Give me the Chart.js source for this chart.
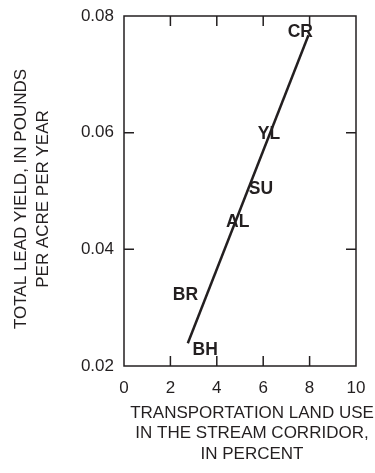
<!DOCTYPE html>
<html>
<head>
<meta charset="utf-8">
<script src="https://cdn.jsdelivr.net/npm/chart.js@4"></script>
<style>
  html, body { margin: 0; padding: 0; background: #fff; }
  #wrap { width: 375px; height: 473px; }
</style>
</head>
<body>
<div id="wrap"><canvas id="leadChart" width="375" height="473"></canvas></div>
<script>
// site labels and where they sit on the plot
const sites = ['CR', 'YL', 'SU', 'AL', 'BR', 'BH'];
const siteX = [7.6, 6.25, 5.9, 4.9, 2.65, 3.5];
const siteY = [0.0772, 0.0598, 0.0503, 0.0446, 0.0322, 0.0227];

// fitted line end points
const fitX = [2.75, 7.95];
const fitY = [0.0239, 0.0767];

const xTicks = [0, 2, 4, 6, 8, 10];
const yTicks = [0.02, 0.04, 0.06, 0.08];

const xTitle = ['TRANSPORTATION LAND USE', 'IN THE STREAM CORRIDOR,', 'IN PERCENT'];
const yTitle = ['TOTAL LEAD YIELD, IN POUNDS', 'PER ACRE PER YEAR'];

const ink = '#231f20';
const baseFont = 'Liberation Sans, Arial, Helvetica, sans-serif';

// frame + inward tick marks on all four sides
const frameTicks = {
  id: 'frameTicks',
  afterDraw(chart) {
    const ctx = chart.ctx;
    const a = chart.chartArea;
    const xs = chart.scales.x, ys = chart.scales.y;
    const len = 10;
    ctx.save();
    ctx.strokeStyle = ink;
    ctx.lineWidth = 1.5;
    ctx.strokeRect(a.left, a.top, a.right - a.left, a.bottom - a.top);
    ctx.beginPath();
    xTicks.slice(1, -1).forEach(v => {
      const px = xs.getPixelForValue(v);
      ctx.moveTo(px, a.bottom); ctx.lineTo(px, a.bottom - len);
      ctx.moveTo(px, a.top); ctx.lineTo(px, a.top + len);
    });
    yTicks.slice(1, -1).forEach(v => {
      const py = ys.getPixelForValue(v);
      ctx.moveTo(a.left, py); ctx.lineTo(a.left + len, py);
      ctx.moveTo(a.right, py); ctx.lineTo(a.right - len, py);
    });
    ctx.stroke();
    ctx.restore();
  }
};

// axis titles (the original sets them a bit off the plot centre)
const axisTitles = {
  id: 'axisTitles',
  afterDraw(chart) {
    const ctx = chart.ctx;
    ctx.save();
    ctx.font = '17px ' + baseFont;
    ctx.fillStyle = ink;
    ctx.textAlign = 'center';
    ctx.textBaseline = 'middle';
    xTitle.forEach((t, i) => ctx.fillText(t, 252, 413 + i * 20.5));
    yTitle.forEach((t, i) => {
      ctx.save();
      ctx.translate(21 + i * 22, 199);
      ctx.rotate(-Math.PI / 2);
      ctx.fillText(t, 0, 0);
      ctx.restore();
    });
    ctx.restore();
  }
};

// site names drawn at their dataset points
const siteLabels = {
  id: 'siteLabels',
  afterDatasetsDraw(chart) {
    const meta = chart.getDatasetMeta(1);
    const ctx = chart.ctx;
    ctx.save();
    ctx.font = 'bold 17.5px ' + baseFont;
    ctx.fillStyle = ink;
    ctx.textAlign = 'center';
    ctx.textBaseline = 'middle';
    meta.data.forEach((pt, i) => {
      ctx.fillText(sites[i], pt.x, pt.y);
    });
    ctx.restore();
  }
};

new Chart(document.getElementById('leadChart'), {
  type: 'scatter',
  data: {
    datasets: [{
      type: 'line',
      data: fitX.map((x, i) => ({ x: x, y: fitY[i] })),
      borderColor: ink,
      borderWidth: 2.5,
      pointRadius: 0,
      fill: false
    }, {
      data: siteX.map((x, i) => ({ x: x, y: siteY[i] })),
      pointRadius: 0,
      showLine: false
    }]
  },
  options: {
    responsive: false,
    animation: false,
    layout: { padding: { top: 16, right: 19, left: 0, bottom: 0 } },
    plugins: { legend: { display: false }, tooltip: { enabled: false } },
    scales: {
      x: {
        type: 'linear',
        min: 0, max: 10,
        afterBuildTicks: s => { s.ticks = xTicks.map(v => ({ value: v })); },
        grid: { display: false, drawTicks: false },
        border: { display: false },
        ticks: { color: ink, font: { family: baseFont, size: 17 }, padding: 12, maxRotation: 0 },
        afterFit: s => { s.height = 107; s.paddingLeft = 0; s.paddingRight = 0; }
      },
      y: {
        type: 'linear',
        min: 0.02, max: 0.08,
        afterBuildTicks: s => { s.ticks = yTicks.map(v => ({ value: v })); },
        grid: { display: false, drawTicks: false },
        border: { display: false },
        ticks: { color: ink, font: { family: baseFont, size: 17 }, padding: 10, callback: v => v.toFixed(2) },
        afterFit: s => { s.width = 124; s.paddingTop = 0; s.paddingBottom = 0; }
      }
    }
  },
  plugins: [frameTicks, siteLabels, axisTitles]
});
</script>
</body>
</html>
